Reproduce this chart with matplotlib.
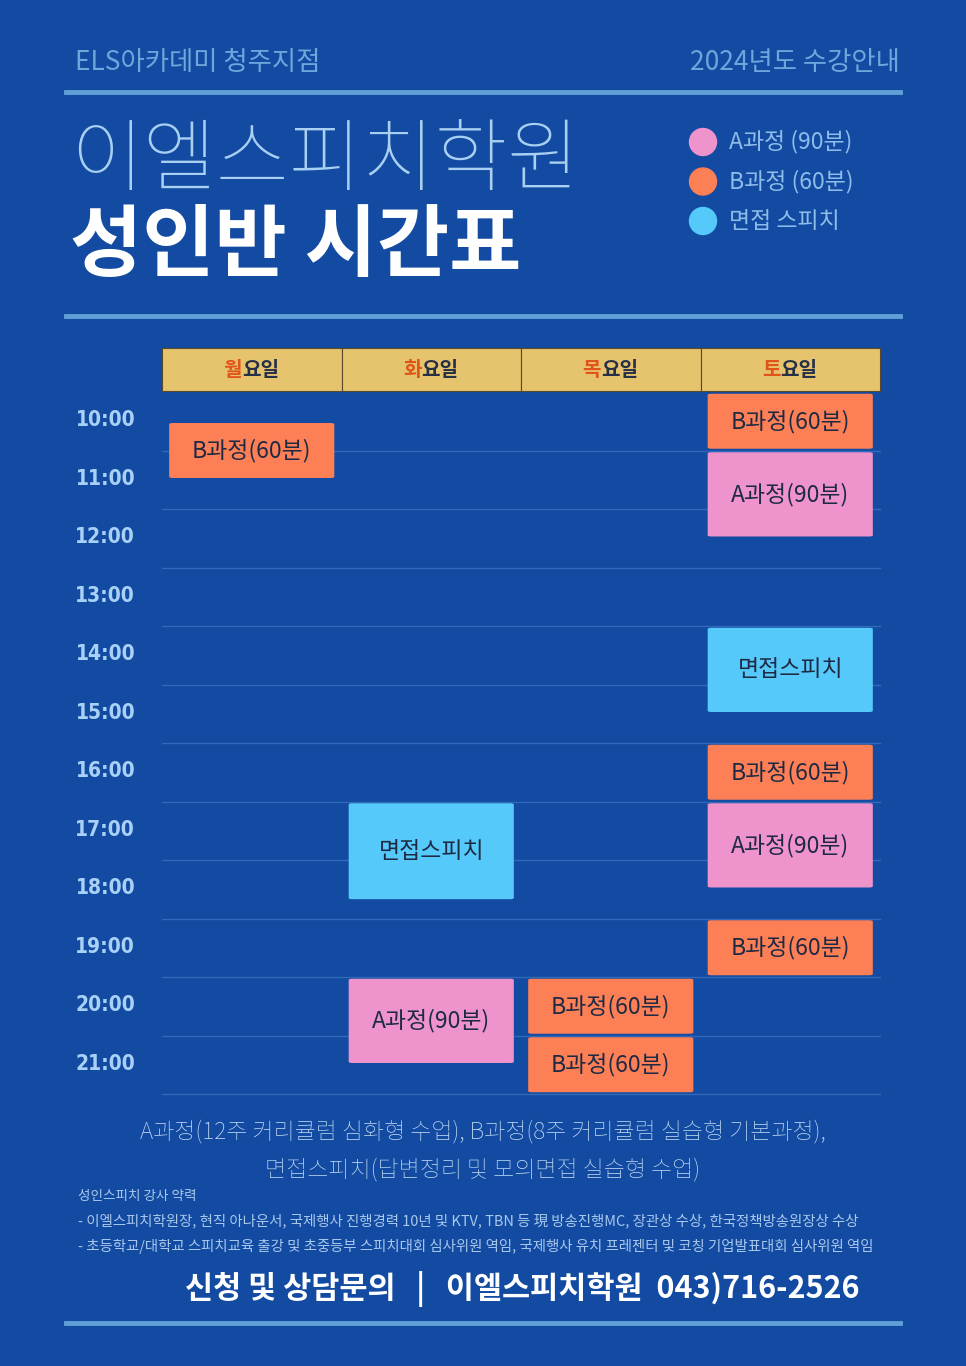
import matplotlib.pyplot as plt
from matplotlib import font_manager
from matplotlib.patches import FancyBboxPatch, Rectangle, Circle

cjk = sorted({f.name for f in font_manager.fontManager.ttflist if 'CJK' in f.name})
KR = next((n for n in cjk if 'KR' in n), cjk[0] if cjk else 'DejaVu Sans')
plt.rcParams['font.family'] = [KR, 'DejaVu Sans']

BG = '#124BA1'
RULE = '#5FA0D8'
GRID = '#3068BA'
HEAD = '#E6C46E'
C_A = '#EE93CB'
C_B = '#FC7F55'
C_S = '#55C9FA'

days = ['월', '화', '목', '토']
hours = list(range(10, 22))
# (day index, start hour, end hour, label, colour)
blocks = [
    (0, 10.5, 11.5, 'B과정(60분)', C_B),
    (3, 10.0, 11.0, 'B과정(60분)', C_B),
    (3, 11.0, 12.5, 'A과정(90분)', C_A),
    (3, 14.0, 15.5, '면접스피치', C_S),
    (3, 16.0, 17.0, 'B과정(60분)', C_B),
    (3, 17.0, 18.5, 'A과정(90분)', C_A),
    (3, 19.0, 20.0, 'B과정(60분)', C_B),
    (1, 17.0, 18.7, '면접스피치', C_S),
    (1, 20.0, 21.5, 'A과정(90분)', C_A),
    (2, 20.0, 21.0, 'B과정(60분)', C_B),
    (2, 21.0, 22.0, 'B과정(60분)', C_B),
]
legend_items = [('A과정 (90분)', C_A), ('B과정 (60분)', C_B), ('면접 스피치', C_S)]

W, H = 966, 1366
fig = plt.figure(figsize=(W / 100, H / 100), dpi=100)
fig.patch.set_facecolor(BG)

# overlay in pixel coordinates for poster decorations
bg = fig.add_axes([0, 0, 1, 1])
bg.set_xlim(0, W)
bg.set_ylim(H, 0)
bg.axis('off')

bg.text(75, 62, 'ELS아카데미 청주지점', color='#6FA6DC', fontsize=19, va='center')
bg.text(900, 62, '2024년도 수강안내', color='#6FA6DC', fontsize=19, va='center', ha='right')
for y in (92, 316, 1323):
    bg.plot([66, 900], [y, y], color=RULE, lw=3.5)
bg.text(70, 162, '이엘스피치학원', color='#A9CFF2', fontsize=57, fontweight='light', va='center')
bg.text(70, 247, '성인반 시간표', color='white', fontsize=56.5, fontweight='bold', va='center')
for i, (lab, col) in enumerate(legend_items):
    y = 142 + i * 39.5
    bg.add_patch(Circle((703, y), 13.5, color=col))
    bg.text(729, y, lab, color='#8FBDEA', fontsize=16.5, va='center')

bg.text(483, 1132, 'A과정(12주 커리큘럼 심화형 수업), B과정(8주 커리큘럼 실습형 기본과정),',
        color='#C5DDF5', fontsize=16.5, ha='center', va='center', fontweight='light')
bg.text(483, 1170, '면접스피치(답변정리 및 모의면접 실습형 수업)',
        color='#C5DDF5', fontsize=16.5, ha='center', va='center', fontweight='light')
bg.text(78, 1196, '성인스피치 강사 약력', color='#A9C8EC', fontsize=9.8, va='center')
bg.text(78, 1221, '- 이엘스피치학원장, 현직 아나운서, 국제행사 진행경력 10년 및 KTV, TBN 등 現 방송진행MC, 장관상 수상, 한국정책방송원장상 수상',
        color='#A9C8EC', fontsize=10.4, va='center')
bg.text(78, 1246, '- 초등학교/대학교 스피치교육 출강 및 초중등부 스피치대회 심사위원 역임, 국제행사 유치 프레젠터 및 코칭 기업발표대회 심사위원 역임',
        color='#A9C8EC', fontsize=10.4, va='center')
bg.text(522, 1289, '신청 및 상담문의   |   이엘스피치학원  043)716-2526',
        color='white', fontsize=22, fontweight='bold', ha='center', va='center')

# timetable axes: x = day column, y = hour
x0, x1, y0, y1 = 162, 880, 392, 1094
ax = fig.add_axes([x0 / W, 1 - y1 / H, (x1 - x0) / W, (y1 - y0) / H])
ax.set_xlim(0, len(days))
ax.set_ylim(22, 10)
ax.axis('off')
ax.patch.set_alpha(0)

for h in range(11, 23):
    ax.plot([0, len(days)], [h, h], color=GRID, lw=1, clip_on=False, zorder=1)
for h in hours:
    ax.text(-0.15, h + 0.48, f'{h}:00', color='#A9D1F7', fontsize=15, fontweight='bold',
            ha='right', va='center', family='DejaVu Sans', fontstretch='condensed')

# header row
hh = 43 / 58.5
for i, d in enumerate(days):
    ax.add_patch(Rectangle((i, 10 - 0.02 - hh), 1, hh, facecolor=HEAD, edgecolor='#5A4A2A',
                           lw=0.8, clip_on=False))
    xc = i + 0.5 - 0.055
    ax.text(xc, 10 - 0.02 - hh / 2, d, color='#E0541A', fontsize=14.5,
            fontweight='bold', ha='right', va='center')
    ax.text(xc, 10 - 0.02 - hh / 2, '요일', color='#263046', fontsize=14.5,
            fontweight='bold', ha='left', va='center')

for d, s, e, lab, col in blocks:
    ax.add_patch(FancyBboxPatch((d + 0.04, s + 0.03), 0.92, e - s - 0.06,
                                boxstyle='round,pad=0,rounding_size=0.02',
                                facecolor=col, edgecolor='none', clip_on=False, zorder=3))
    ax.text(d + 0.5, (s + e) / 2, lab, color='#1E2A44', fontsize=16.5,
            ha='center', va='center', zorder=4)

fig.savefig('out.png', dpi=100, facecolor=BG)
